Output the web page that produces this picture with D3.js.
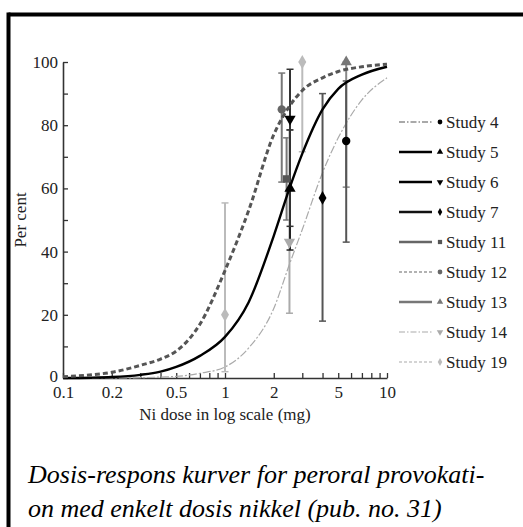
<!DOCTYPE html>
<html>
<head>
<meta charset="utf-8">
<script src="https://cdn.jsdelivr.net/npm/d3@7"></script>
<style>
  body { margin: 0; background: #fff; }
  svg { display: block; }
  svg text { font-family: "Liberation Serif", "Times New Roman", Times, "DejaVu Serif", serif; }
</style>
</head>
<body>
<svg id="chart" width="523" height="527"></svg>
<script>
// fitted curves (dose in mg, per cent)
var curveDose    = [0.1, 0.15, 0.2, 0.3, 0.4, 0.5, 0.7, 1, 1.4, 2, 2.5, 3, 4, 5, 7, 10];
var curveSolid   = [0, 0.1, 0.3, 1, 2, 3.5, 7, 13, 24, 45, 60, 71, 85, 91.5, 96, 98.5];
var curveDashed  = [0.4, 1, 1.8, 4, 6, 8.5, 17, 34, 53, 77, 86, 91, 95, 97, 98.5, 99.3];
var curveDashDot = [0, 0, 0, 0.1, 0.3, 0.5, 1.5, 3.5, 9.5, 22, 36, 47, 65, 76, 88, 95];

// observed points with error bars
var pointStudy = ["Study 19", "Study 12", "Study 11", "Study 14", "Study 5", "Study 6", "Study 19", "Study 7", "Study 13", "Study 4"];
var pointDose  = [1.0, 2.24, 2.4, 2.5, 2.52, 2.52, 3.0, 4.0, 5.6, 5.6];
var pointValue = [20, 85, 63, 43, 60, 82, 100, 57, 100, 75];
var pointLow   = [2, 62, 50, 20.5, 40.5, 48, 71.6, 18, 60.4, 43];
var pointHigh  = [55.4, 96.5, 76, 78.5, 78.5, 97.7, 100, 90, 100, 94];

var legendStudies = ["Study 4", "Study 5", "Study 6", "Study 7", "Study 11", "Study 12", "Study 13", "Study 14", "Study 19"];

var xTicks = [0.1, 0.2, 0.3, 0.4, 0.5, 0.6, 0.7, 0.8, 0.9, 1, 2, 3, 4, 5, 6, 7, 8, 9, 10];
var xLabels = [0.1, 0.2, 0.5, 1, 2, 5, 10];
var yTicks = [0, 10, 20, 30, 40, 50, 60, 70, 80, 90, 100];

var caption = ["Dosis-respons kurver for peroral provokati-", "on med enkelt dosis nikkel (pub. no. 31)"];

var serif = "'Liberation Serif', 'Times New Roman', Times, 'DejaVu Serif', serif";

// look of each study
var style = {
  "Study 4":  { line: "#555", width: 1.2, dash: "6,2,1.5,2", sym: d3.symbolCircle,   fill: "#000", bar: "#555" },
  "Study 5":  { line: "#000", width: 2.5, dash: null,        sym: d3.symbolTriangle, fill: "#000", bar: "#222" },
  "Study 6":  { line: "#000", width: 2.5, dash: null,        sym: "down",            fill: "#000", bar: "#333" },
  "Study 7":  { line: "#111", width: 2.5, dash: null,        sym: d3.symbolDiamond,  fill: "#000", bar: "#555" },
  "Study 11": { line: "#666", width: 2.5, dash: null,        sym: d3.symbolSquare,   fill: "#555", bar: "#777" },
  "Study 12": { line: "#666", width: 1.2, dash: "3,2",       sym: d3.symbolCircle,   fill: "#666", bar: "#777" },
  "Study 13": { line: "#777", width: 2.5, dash: null,        sym: d3.symbolTriangle, fill: "#777", bar: "#888" },
  "Study 14": { line: "#aaa", width: 1.2, dash: "6,2,1.5,2", sym: "down",            fill: "#aaa", bar: "#aaa" },
  "Study 19": { line: "#aaa", width: 1.2, dash: "3,2",       sym: d3.symbolDiamond,  fill: "#bbb", bar: "#bbb" }
};

var svg = d3.select("#chart");

// frame (top and left border of the clipped box)
svg.append("line").attr("x1", 8.5).attr("x2", 523).attr("y1", 14.5).attr("y2", 14.5)
  .attr("stroke", "#000").attr("stroke-width", 4);
svg.append("line").attr("x1", 8.5).attr("x2", 8.5).attr("y1", 12.5).attr("y2", 527)
  .attr("stroke", "#000").attr("stroke-width", 4);

var x = d3.scaleLog().domain([0.1, 10]).range([63, 387]);
var y = d3.scaleLinear().domain([0, 100]).range([378, 62]);

function symPath(sym, size) {
  if (sym === "down") {
    return d3.symbol().type(d3.symbolTriangle).size(size)();
  }
  return d3.symbol().type(sym).size(size)();
}
function symRotate(sym) { return sym === "down" ? " rotate(180)" : ""; }

// axes
var yAxis = d3.axisLeft(y).tickValues(yTicks).tickSizeInner(-5).tickSizeOuter(0).tickPadding(5)
  .tickFormat(function(d) { return d % 20 === 0 ? d : ""; });
var gy = svg.append("g").attr("transform", "translate(63,0)").call(yAxis);

var xAxis = d3.axisBottom(x).tickValues(xTicks).tickSizeInner(-5).tickSizeOuter(0).tickPadding(8)
  .tickFormat(function(d) { return xLabels.indexOf(d) >= 0 ? String(d) : ""; });
var gx = svg.append("g").attr("transform", "translate(0,378)").call(xAxis);

[gx, gy].forEach(function(g) {
  g.attr("font-family", serif);
  g.selectAll("path").attr("stroke", "#333").attr("stroke-width", 1.6);
  g.selectAll("line").attr("stroke", "#333").attr("stroke-width", 1.3);
  g.selectAll("text").attr("fill", "#222").style("font-size", "17px");
});
// lift the y "0" a little off the x labels
gy.selectAll(".tick text").filter(function(d) { return d === 0; }).attr("dy", "0.2em");

svg.append("text").attr("transform", "translate(26,220) rotate(-90)")
  .attr("text-anchor", "middle").attr("fill", "#222").style("font-size", "17px")
  .text("Per cent");
svg.append("text").attr("x", 225).attr("y", 420)
  .attr("text-anchor", "middle").attr("fill", "#222").style("font-size", "17px")
  .text("Ni dose in log scale (mg)");

// curves
var line = d3.line().curve(d3.curveMonotoneX)
  .x(function(d) { return x(d[0]); })
  .y(function(d) { return y(d[1]); });

function curvePoints(vals) { return curveDose.map(function(d, i) { return [d, vals[i]]; }); }

svg.append("path").datum(curvePoints(curveDashDot))
  .attr("d", line).attr("fill", "none").attr("stroke", "#aaa")
  .attr("stroke-width", 1.2).attr("stroke-dasharray", "8,2,2,2");

// error bars
var pts = pointStudy.map(function(s, i) {
  return { study: s, dose: pointDose[i], v: pointValue[i], lo: pointLow[i], hi: pointHigh[i] };
});

var bars = svg.append("g").selectAll("g").data(pts).enter().append("g");
bars.append("line")
  .attr("x1", function(d) { return x(d.dose); }).attr("x2", function(d) { return x(d.dose); })
  .attr("y1", function(d) { return y(d.lo); }).attr("y2", function(d) { return y(d.hi); })
  .attr("stroke", function(d) { return style[d.study].bar; }).attr("stroke-width", 2);
bars.selectAll(".cap").data(function(d) { return [{ d: d, v: d.lo }, { d: d, v: d.hi }]; })
  .enter().append("line")
  .attr("x1", function(c) { return x(c.d.dose) - 3.5; }).attr("x2", function(c) { return x(c.d.dose) + 3.5; })
  .attr("y1", function(c) { return y(c.v); }).attr("y2", function(c) { return y(c.v); })
  .attr("stroke", function(c) { return style[c.d.study].bar; }).attr("stroke-width", 1.5);

svg.append("path").datum(curvePoints(curveSolid))
  .attr("d", line).attr("fill", "none").attr("stroke", "#000").attr("stroke-width", 2.4);
svg.append("path").datum(curvePoints(curveDashed))
  .attr("d", line).attr("fill", "none").attr("stroke", "#555")
  .attr("stroke-width", 3).attr("stroke-dasharray", "5,3");

// markers
svg.append("g").selectAll("path").data(pts).enter().append("path")
  .attr("d", function(d) { return symPath(style[d.study].sym, 55); })
  .attr("transform", function(d) {
    return "translate(" + x(d.dose) + "," + y(d.v) + ")" + symRotate(style[d.study].sym);
  })
  .attr("fill", function(d) { return style[d.study].fill; });

// legend
var leg = svg.append("g").selectAll("g").data(legendStudies).enter().append("g")
  .attr("transform", function(d, i) { return "translate(399," + (122 + i * 30) + ")"; });
leg.append("line").attr("x1", 0).attr("x2", 33).attr("y1", 0).attr("y2", 0)
  .attr("stroke", function(d) { return style[d].line; })
  .attr("stroke-width", function(d) { return style[d].width; })
  .attr("stroke-dasharray", function(d) { return style[d].dash; });
leg.append("path")
  .attr("d", function(d) { return symPath(style[d].sym, 18); })
  .attr("transform", function(d) { return "translate(41,0)" + symRotate(style[d].sym); })
  .attr("fill", function(d) { return style[d].fill; });
leg.append("text").attr("x", 47).attr("y", 0).attr("dy", "0.33em")
  .attr("fill", "#222").style("font-size", "17px")
  .text(function(d) { return d; });

// caption
svg.append("g").selectAll("text").data(caption).enter().append("text")
  .attr("x", 28).attr("y", function(d, i) { return 483 + i * 34; })
  .style("font-size", "26px").style("font-style", "italic").attr("fill", "#000")
  .text(function(d) { return d; });
</script>
</body>
</html>
